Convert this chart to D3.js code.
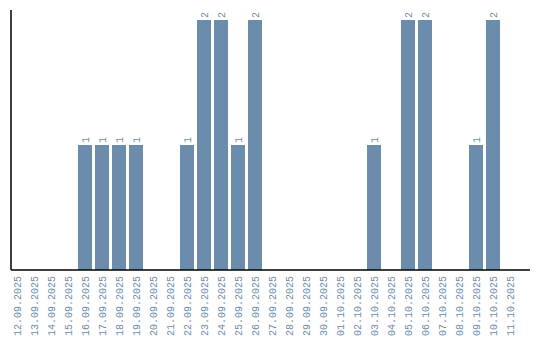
<!DOCTYPE html>
<html lang="en">
<head>
<meta charset="utf-8">
<title>Bars</title>
<script src="https://cdn.jsdelivr.net/npm/d3@7"></script>
<style>
body { margin: 0; background: #fff; }
svg text { font-family: "Liberation Mono", monospace; font-size: 10px; fill: #6b8cab; }
</style>
</head>
<body>
<script>
var dates = ["12.09.2025","13.09.2025","14.09.2025","15.09.2025","16.09.2025","17.09.2025",
  "18.09.2025","19.09.2025","20.09.2025","21.09.2025","22.09.2025","23.09.2025","24.09.2025",
  "25.09.2025","26.09.2025","27.09.2025","28.09.2025","29.09.2025","30.09.2025","01.10.2025",
  "02.10.2025","03.10.2025","04.10.2025","05.10.2025","06.10.2025","07.10.2025","08.10.2025",
  "09.10.2025","10.10.2025","11.10.2025"];
var counts = [0,0,0,0,1,1,1,1,0,0,1,2,2,1,2,0,0,0,0,0,0,1,0,2,2,0,0,1,2,0];

var width = 540, height = 340;
var marginLeft = 11, axisEnd = 530, plotTop = 20, plotBottom = 270;

var svg = d3.select("body").append("svg")
  .attr("width", width)
  .attr("height", height);

var x = d3.scaleBand().domain(dates).range([8.5, 518.5]).paddingInner(0.176).paddingOuter(0.088);
var y = d3.scaleLinear().domain([0, 2]).range([plotBottom, plotTop]);

var data = dates.map(function(d, i) { return {date: d, value: counts[i]}; });
var shown = data.filter(function(d) { return d.value > 0; });

svg.selectAll("rect.bar")
  .data(shown)
  .enter().append("rect")
  .attr("class", "bar")
  .attr("x", function(d) { return x(d.date); })
  .attr("y", function(d) { return y(d.value); })
  .attr("width", x.bandwidth())
  .attr("height", function(d) { return plotBottom - y(d.value); })
  .attr("fill", "#6b8cab");

svg.selectAll("text.val")
  .data(shown)
  .enter().append("text")
  .attr("class", "val")
  .attr("transform", function(d) {
    return "translate(" + (x(d.date) + x.bandwidth() / 2 + 3.5) + "," + (y(d.value) - 2) + ") rotate(-90)";
  })
  .text(function(d) { return d.value; });

svg.selectAll("text.tick")
  .data(dates)
  .enter().append("text")
  .attr("class", "tick")
  .attr("text-anchor", "end")
  .attr("transform", function(d) {
    return "translate(" + (x(d) + x.bandwidth() / 2 + 3.5) + "," + (plotBottom + 6) + ") rotate(-90)";
  })
  .text(function(d) { return d; });

svg.append("line")
  .attr("x1", marginLeft).attr("x2", marginLeft)
  .attr("y1", 10).attr("y2", plotBottom)
  .attr("stroke", "#000").attr("stroke-width", 1.5);

svg.append("line")
  .attr("x1", marginLeft).attr("x2", axisEnd)
  .attr("y1", plotBottom).attr("y2", plotBottom)
  .attr("stroke", "#000").attr("stroke-width", 1.5);
</script>
</body>
</html>
